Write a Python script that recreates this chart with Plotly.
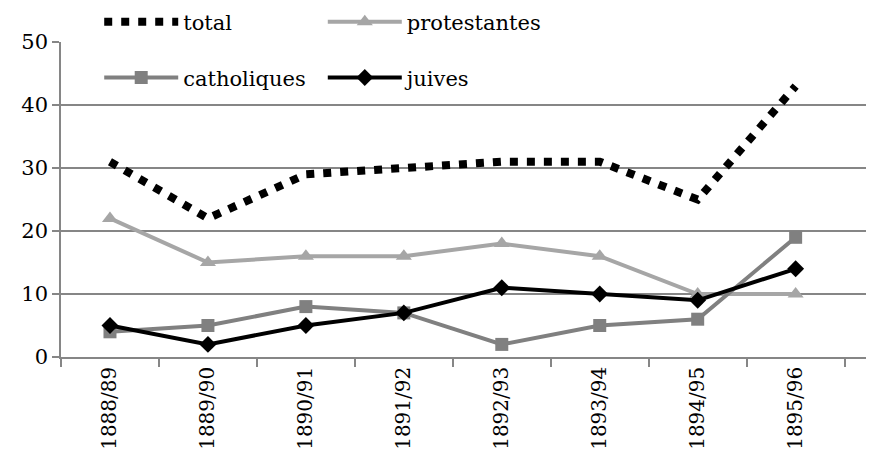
import plotly.graph_objects as go

categories = ["1888/89", "1889/90", "1890/91", "1891/92", "1892/93", "1893/94", "1894/95", "1895/96"]
total = [31, 22, 29, 30, 31, 31, 25, 43]
protestantes = [22, 15, 16, 16, 18, 16, 10, 10]
catholiques = [4, 5, 8, 7, 2, 5, 6, 19]
juives = [5, 2, 5, 7, 11, 10, 9, 14]
y_ticks = [0, 10, 20, 30, 40, 50]

FONT = "DejaVu Serif"

fig = go.Figure()
fig.add_trace(go.Scatter(x=categories, y=total, name="total", mode="lines",
                         line=dict(color="black", width=8, dash="8px,9px"), legend="legend"))
fig.add_trace(go.Scatter(x=categories, y=protestantes, name="protestantes", mode="lines+markers",
                         line=dict(color="#A6A6A6", width=4),
                         marker=dict(symbol="triangle-up", size=14, color="#A6A6A6"), legend="legend2"))
fig.add_trace(go.Scatter(x=categories, y=catholiques, name="catholiques", mode="lines+markers",
                         line=dict(color="#808080", width=4),
                         marker=dict(symbol="square", size=13, color="#808080"), legend="legend3"))
fig.add_trace(go.Scatter(x=categories, y=juives, name="juives", mode="lines+markers",
                         line=dict(color="black", width=4),
                         marker=dict(symbol="diamond", size=13, color="black"), legend="legend4"))

def leg(x, y):
    return dict(orientation="h", x=x, y=y, xanchor="left", yanchor="middle",
                itemwidth=74, font=dict(family=FONT, size=21), bgcolor="rgba(0,0,0,0)")

fig.update_layout(
    width=866, height=451,
    margin=dict(l=53, r=0, t=34, b=102, autoexpand=False),
    paper_bgcolor="white", plot_bgcolor="white",
    font=dict(family=FONT, size=20, color="black"),
    showlegend=True,
    legend=leg(0.047, 1.063),
    legend2=leg(0.322, 1.063),
    legend3=leg(0.047, 0.886),
    legend4=leg(0.322, 0.886),
    xaxis=dict(type="category", range=[-0.5, 7.8], tickson="boundaries",
               ticks="outside", ticklen=8, tickcolor="#868686", tickwidth=1.5,
               showline=True, linecolor="#868686", linewidth=1.5,
               showgrid=False, tickangle=-90, tickfont=dict(family=FONT, size=20)),
    yaxis=dict(range=[0, 50], tickvals=y_ticks, ticks="outside", ticklen=7,
               tickcolor="#868686", tickwidth=1.5,
               showline=True, linecolor="#868686", linewidth=1.5,
               showgrid=True, gridcolor="#868686", gridwidth=1.5, zeroline=False,
               tickfont=dict(family=FONT, size=21)),
)

fig.write_html("out.html")
